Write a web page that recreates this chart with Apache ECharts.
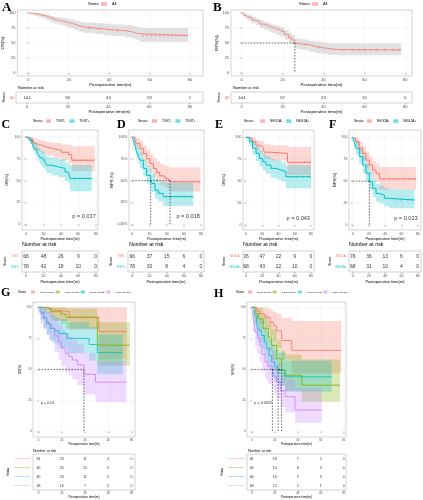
<!DOCTYPE html>
<html><head><meta charset="utf-8">
<script src="https://cdn.jsdelivr.net/npm/echarts@6/dist/echarts.min.js"></script>
<style>html,body{margin:0;padding:0;background:#fff}#chart{width:423px;height:500px}</style>
</head><body><div id="chart"></div>
<script>
// ================= DATA =================
const xTicks = [0, 20, 40, 60, 80];
const yTicks = [0, 25, 50, 75, 100];
const riskTimes = [0, 20, 40, 60, 80];

// A: OS, all patients
const A_time = [0,1,3,5,7,9,11,13,15,17,19,21,23,25,27,33,37,41,48,51,53,55,79];
const A_surv = [100,99.3,98,96.5,95,92.5,89.5,88,86.5,85,83,81.5,79,77,75,73.5,72,70.5,69,67,65.5,62.5,62.5];
const A_low  = [100,98,95.5,93.5,91,88,84.5,82.5,80.5,78.5,76,74.5,71.5,69,67,65,63,61.5,59.5,57,55.5,52,52];
const A_up   = [100,100,100,99.5,98.5,97,95,93.5,92.5,91.5,90,89,87,85.5,84,83,82,81,80,78.5,77,75,75];
const A_cens = [30,35,44,57,59,61,63,65,67,69,71,73,75,77];
const A_risk = [144,90,44,19,1];

// B: RFS, all patients
const B_time = [0,1,2,3,5,7,9,11,13,15,17,19,21,23,24.5,26,28,30,33,36,39,42,47,78];
const B_surv = [100,96,94,92,88,85,81.5,79,76,74,71,68.5,64,59,55,49.5,48,47,44.5,42.5,41,39,38.5,38.5];
const B_low  = [100,93,90,87.5,83,79.5,75.5,72.5,69,67,63.5,61,56,51,46.5,41,39.5,38,35.5,33.5,32,30,29.5,29.5];
const B_up   = [100,99,98,96.5,93,90.5,87.5,85.5,83,81,78.5,76,72,67,63.5,58,56.5,56,53.5,52,50.5,49,49,49];
const B_cens = [31,38,45,50,54,57,60,63,66,70,74,77];
const B_risk = [144,67,23,10,0];
const B_medians = [26];

// C: OS by TIGIT
const C_neg_time = [0,3,5,8,10,13,18,24,31,41,49,52.5,79];
const C_neg_surv = [100,98.5,97,94,92,90.5,88.5,86.7,84.8,82.5,80,73.4,73.4];
const C_neg_low  = [100,95,92.5,88,85.5,83.5,81,78.5,76,73,70,61,61];
const C_neg_up   = [100,100,100,99,98,97,95.5,94,93,91.5,90.5,89.5,89.5];
const C_neg_cens = [57,63,70,76];
const C_pos_time = [0,2,4.6,7,8.4,10,12.3,14,16,18,20,22,24,29.5,37,44.8,48.7,50.6,75.5];
const C_pos_surv = [100,98.5,96,92,88.6,86,83,80,77,75,73.4,70.5,67.7,65.8,64,60,58,52.5,52.5];
const C_pos_low  = [100,96,92,87,83,80,76,72.5,69,66.5,64.5,61.5,58.5,56,54,49.5,47,38,38];
const C_pos_up   = [100,100,100,97.5,95,93,90.5,88,85.5,84,82.5,80,77.5,76,74.5,71,69.5,68,68];
const C_pos_cens = [56,62,68,73];
const C_risk = [[66,48,26,9,0],[78,42,18,10,0]];

// D: RFS by TIGIT
const D_neg_time = [0,3,5,9,12.8,16.7,20.6,24.5,28.3,32,38,42,44,79];
const D_neg_surv = [100,96,92.4,86.7,81,75,69.6,64,59.3,55.5,52.5,50.6,48.7,48.7];
const D_neg_low  = [100,91,86,79,72.5,66,60,54,49,45,42,40,37.5,37.5];
const D_neg_up   = [100,100,99,95,90.5,85.5,81,76.5,72.5,69.5,67,66,65,65];
const D_neg_cens = [50,58,65,72,78];
const D_pos_time = [0,1.5,3,5,7,9,12.8,16.7,21.4,22.5,26.4,30.3,36,71];
const D_pos_surv = [100,95,90.5,83,78,73.4,64,56,49.5,46.8,39,35.4,31.6,31.6];
const D_pos_low  = [100,90,84,75.5,70,64.5,55,46.5,40,37,29.5,26,21,21];
const D_pos_up   = [100,100,97,91,86.5,82.5,74,67,62,58.5,52,49,48,48];
const D_pos_cens = [45,55,62,69];
const D_medians = [21.4, 44];
const D_risk = [[66,37,15,6,0],[78,30,8,4,0]];

// E: OS by NKG2A
const E_neg_time = [0,4,8,12.3,16.4,20.5,22.5,30.7,51,80];
const E_neg_surv = [100,98,95,91,89,87.5,83,81.7,71.5,71.5];
const E_neg_low  = [100,95,90.5,85,82.5,80.5,75,73.5,57,57];
const E_neg_up   = [100,100,99.5,97,96,95,92,91,89,89];
const E_neg_cens = [58,65,72,78];
const E_pos_time = [0,4,8,12.3,16.4,20.5,24.6,30.7,37,43,49,80];
const E_pos_surv = [100,95,87.5,81.7,76,72,68.4,64.6,62.7,61,55,55];
const E_pos_low  = [100,90,80,73,67,62.5,58.5,54,52,50,42,42];
const E_pos_up   = [100,100,95,90,85,81.5,78.5,75,73.5,72,68,68];
const E_pos_cens = [55,62,70,77];
const E_risk = [[76,47,22,9,0],[68,43,22,10,0]];

// F: RFS by NKG2A
const F_neg_time = [0,2,4,8,12.3,16.4,20.5,24.6,28.7,32.8,78];
const F_neg_surv = [100,98,95,87.5,81.7,74,68.4,62.7,59,52.5,52.5];
const F_neg_low  = [100,95,90,80.5,73.5,65,59,53,49,40.5,40.5];
const F_neg_up   = [100,100,100,95,90.5,84,78.5,73,70,66,66];
const F_neg_cens = [45,55,63,70,77];
const F_pos_time = [0,2,4,8,12.3,16.4,20.5,24.6,28.7,32.8,39,45,76];
const F_pos_surv = [100,94,87.5,78,68.4,59,49.4,41.8,36,34,30.4,28.5,28.5];
const F_pos_low  = [100,89,80.5,69.5,59,49.5,39.5,32,26.5,24.5,21,19,19];
const F_pos_up   = [100,99,95,87.5,79,70,60.5,53,47,45,42,40.5,40.5];
const F_pos_cens = [52,60,68,74];
const F_medians = [20.5];
const F_risk = [[76,36,13,6,0],[68,31,10,4,0]];

// G: OS by TIGIT/NKG2A groups
const GH_groups = ['TIGIT-NKG2A-','TIGIT-NKG2A+','TIGIT+NKG2A-','TIGIT+NKG2A+'];
const G1_time = [0,9.4,13.7,26.5,52,76];
const G1_surv = [100,98,96.5,92,80.4,80.4];
const G1_low  = [100,93,89,82,58,58];
const G1_up   = [100,100,100,100,100,100];
const G2_time = [0,3.7,10.8,19.4,23.6,50.6,78.5];
const G2_surv = [100,98.7,96.5,94.6,92,69.5,69.5];
const G2_low  = [100,95,90,86.5,83,53,53];
const G2_up   = [100,100,100,100,99,88,88];
const G3_time = [0,2,4.4,7,10,14,17.4,24.7,43.6,50.6,72.5];
const G3_surv = [100,96,91,87,83,81,79,75,70,63.5,63.5];
const G3_low  = [100,90,83,78,73,70,67.5,63,57,46,46];
const G3_up   = [100,100,99,96.5,93.5,92,90.5,88,84,78,78];
const G4_time = [0,1.5,4,7,9,11.6,14,17.4,20,23,26,29,33.4,39,49,75.6];
const G4_surv = [100,95,92,88.5,86,83,77,72,67,63,60.5,57.6,53.6,46,39.7,39.7];
const G4_low  = [100,87,83,78,74.5,71,64,58,52.5,48,45,42,37.5,30,23.5,23.5];
const G4_up   = [100,100,100,98,96.5,94,90,86,82,78.5,76.5,74,70.5,63,57,57];
const G_medians = [39];
const G_risk = [[31,23,11,4,0],[35,25,15,5,0],[45,24,11,5,0],[33,16,7,5,0]];

// H: RFS by TIGIT/NKG2A groups
const H1_time = [0,4.3,7,11.6,16,19,21.7,26,34.8,78];
const H1_surv = [100,97,94.7,92,88,85,81,73.3,65.3,65.3];
const H1_low  = [100,91,86.5,82.5,77,72.5,67.5,58,47,47];
const H1_up   = [100,100,100,99.5,98,96.5,95,91.5,89,89];
const H2_time = [0,3,5.8,10,14.5,17.4,21.7,26,29,43.5,76.8];
const H2_surv = [100,95,90.7,82.7,76,69.3,58.7,49.5,45.3,37.3,37.3];
const H2_low  = [100,88,82,72.5,65,57.5,46.5,37.5,33,24,24];
const H2_up   = [100,100,99.5,94,88.5,82.5,73,65,62,58,58];
const H3_time = [0,2,4.3,6,8.7,11,13,15,17.4,20,23,29,69.6];
const H3_surv = [100,93,85.3,81,77.3,72,66.7,61,56,52,49.3,44,44];
const H3_low  = [100,86,76.5,71.5,67,61.5,55.5,49.5,44.5,40,37,32,32];
const H3_up   = [100,100,95,91.5,89,84.5,80,74.5,70,66,63.5,57,57];
const H4_time = [0,1.5,3,5,7,9,11.6,14,18,19.5,21.7,25,29,37.7,60.9];
const H4_surv = [100,90,80,75,69.3,62,56,52.5,49.3,44,40,33,28,17.3,17.3];
const H4_low  = [100,80.5,68.5,62.5,56,48.5,42,38.5,35,30,26.5,20,15.5,7,7];
const H4_up   = [100,99,93,89,84,78,72,68,65,59,55,47,42,35,35];
const H_medians = [18, 23, 26];
const H_risk = [[31,18,7,2,0],[35,14,8,3,0],[45,16,9,3,0],[33,12,2,1,0]];

// ================= DRAWING =================
const FONT = '"Liberation Sans", Arial, Helvetica, sans-serif';
const SERIF = '"Liberation Serif", "Times New Roman", serif';
const RED = '#F8766D', GRN = '#7CAE00', TEAL = '#00BFC4', PURP = '#C77CFF';
const GH_colors = [RED, GRN, TEAL, PURP];
const PLUS = 'path://M4,0H6V4H10V6H6V10H4V6H0V4H4Z';

const option = {animation:false, backgroundColor:'#ffffff', textStyle:{fontFamily:FONT},
  title:[], legend:[], grid:[], xAxis:[], yAxis:[], series:[]};

function txt(t, left, top, size, extra) {
  option.title.push({text:t, left:left, top:top, padding:0,
    textStyle:Object.assign({fontSize:size, fontWeight:'normal', color:'#000', fontFamily:FONT}, extra || {})});
}
function letter(t, left, top, size) { txt(t, left, top, size, {fontFamily:SERIF, fontWeight:'bold'}); }

function mapAxes(box, x0, x80, y100, y0) {
  const [L,T,R,B] = box; const px = (x80-x0)/80, py = (y0-y100)/100;
  return {xmin:-(x0-L)/px, xmax:80+(R-x80)/px, ymin:-(B-y0)/py, ymax:100+(y100-T)/py};
}
function addGrid(box) {
  const [L,T,R,B] = box;
  option.grid.push({left:L, top:T, width:R-L, height:B-T, show:true, borderColor:'#a6a6a6', borderWidth:0.5, backgroundColor:'#fff'});
  return option.grid.length - 1;
}
function stepAt(t, times, vals) { let v = vals[0]; for (let i = 0; i < times.length; i++) if (times[i] <= t) v = vals[i]; return v; }

function xAxisDef(gi, m, f) {
  return {gridIndex:gi, type:'value', min:m.xmin, max:m.xmax, axisLine:{show:false},
    axisTick:{show:true, customValues:xTicks, length:1.5, lineStyle:{color:'#444', width:0.4}},
    axisLabel:{customValues:xTicks, fontSize:f.tick, color:'#4d4d4d', margin:f.margin, fontFamily:FONT},
    splitLine:{show:true, lineStyle:{color:'#ebebeb', width:0.4}},
    name:'Postoperative time(m)', nameLocation:'middle', nameGap:f.nameGap,
    nameTextStyle:{fontSize:f.title, color:'#000', fontFamily:FONT}};
}

// confidence band: one step-shaped polygon drawn through the axes
function bandSeries(gi, t, lo, hi, color, opacity) {
  return {type:'custom', xAxisIndex:gi, yAxisIndex:gi, silent:true, clip:true, z:1,
    data:t.map((x,i)=>[x, lo[i], hi[i]]), encode:{x:0, y:[1,2]},
    renderItem:(params, api) => {
      if (params.dataIndex !== 0) return null;
      const up = [], dn = [];
      for (let i = 0; i < t.length; i++) {
        const xa = t[i], xb = i < t.length - 1 ? t[i+1] : t[i];
        up.push(api.coord([xa, hi[i]]), api.coord([xb, hi[i]]));
        dn.push(api.coord([xa, lo[i]]), api.coord([xb, lo[i]]));
      }
      return {type:'polygon', shape:{points:up.concat(dn.reverse())}, style:{fill:color, opacity:opacity, stroke:null}};
    }};
}

function addKM(c) {
  const f = c.f;
  const m = mapAxes(c.box, c.x0, c.x80, c.y100, c.y0);
  const gi = addGrid(c.box);
  option.xAxis.push(xAxisDef(gi, m, f));
  option.yAxis.push({gridIndex:gi, type:'value', min:m.ymin, max:m.ymax, axisLine:{show:false},
    axisTick:{show:true, customValues:yTicks, length:1.5, lineStyle:{color:'#444', width:0.4}},
    axisLabel:{customValues:yTicks, fontSize:f.tick, color:'#4d4d4d', margin:f.margin, fontFamily:FONT,
      formatter: c.yFmt || (v => String(v))},
    splitLine:{show:true, lineStyle:{color:'#ebebeb', width:0.4}},
    name:c.yName, nameLocation:'middle', nameRotate:90, nameGap:c.yGap,
    nameTextStyle:{fontSize:f.title, color:'#000', fontFamily:FONT}});
  c.curves.forEach(cv => {
    option.series.push(bandSeries(gi, cv.t, cv.lo, cv.hi, cv.band || cv.color, cv.band ? 0.35 : 0.28));
  });
  c.curves.forEach(cv => {
    option.series.push({name:cv.name, type:'line', xAxisIndex:gi, yAxisIndex:gi, step:'end', symbol:'none', silent:true,
      data:cv.t.map((x,i)=>[x, cv.s[i]]), lineStyle:{color:cv.color, width:f.lw}, itemStyle:{color:cv.color}, z:3});
    if (cv.cens) {
      option.series.push({type:'scatter', xAxisIndex:gi, yAxisIndex:gi, symbol:PLUS, symbolSize:f.cens, silent:true,
        data:cv.cens.map(t=>[t, stepAt(t, cv.t, cv.s)]), itemStyle:{color:cv.color}, z:4});
    }
  });
  if (c.medians && c.medians.length) {
    const dash = {color:'#000', width:0.6, type:[1.5,1.5]};
    option.series.push({type:'line', xAxisIndex:gi, yAxisIndex:gi, symbol:'none', silent:true,
      data:[[0,50],[Math.max(...c.medians),50]], lineStyle:dash, z:5});
    c.medians.forEach(md => option.series.push({type:'line', xAxisIndex:gi, yAxisIndex:gi, symbol:'none', silent:true,
      data:[[md,50],[md,0]], lineStyle:dash, z:5}));
  }
  if (c.pText) {
    option.series.push({type:'scatter', xAxisIndex:gi, yAxisIndex:gi, symbolSize:1, silent:true,
      itemStyle:{color:'rgba(0,0,0,0)'}, data:[[c.pX, c.pY]],
      label:{show:true, position:'inside', formatter:c.pText, fontSize:f.p, color:'#000', fontFamily:FONT}, z:6});
  }
}

function addRisk(c) {
  const f = c.f;
  const m = mapAxes([c.box[0], 0, c.box[2], 100], c.x0, c.x80, 0, 100);
  const gi = addGrid(c.box);
  const xa = xAxisDef(gi, m, f);
  xa.splitLine = {show:false};
  option.xAxis.push(xa);
  option.yAxis.push({gridIndex:gi, type:'category', inverse:true, data:c.rows, axisLine:{show:false},
    axisTick:{show:true, length:1.5, alignWithLabel:true, lineStyle:{color:'#444', width:0.4}},
    axisLabel:{fontSize:f.row, margin:f.margin, fontFamily:FONT, color:(v,i)=>c.colors[i]},
    splitLine:{show:false},
    name:'Strata', nameLocation:'middle', nameRotate:90, nameGap:c.yGap,
    nameTextStyle:{fontSize:f.strata, color:'#000', fontFamily:FONT}});
  const data = [];
  c.counts.forEach((row, r) => row.forEach((n, j) => data.push([riskTimes[j], c.rows[r], n])));
  option.series.push({type:'scatter', xAxisIndex:gi, yAxisIndex:gi, symbolSize:1, silent:true,
    itemStyle:{color:'rgba(0,0,0,0)'}, data:data,
    label:{show:true, position:'inside', formatter:p=>String(p.value[2]), fontSize:f.num, color:'#000', fontFamily:FONT}});
}

function addLegend(names, colors, left, top, f) {
  option.legend.push({left:left, top:top, padding:0, orient:'horizontal', selectedMode:false,
    itemWidth:f.iw, itemHeight:f.ih, itemGap:f.gap,
    textStyle:{fontSize:f.font, color:'#000', fontFamily:FONT},
    data:names.map((n,i)=>({name:n, icon:'rect', itemStyle:{color:colors[i], opacity:0.55, borderWidth:0}}))});
}

// ---- font/size settings ----
const fAB = {tick:4, title:4.3, margin:1.8, nameGap:3.8, lw:0.8, cens:2.4};
const rAB = {tick:4, title:4.3, margin:2, nameGap:4.5, num:4.3, row:3.6, strata:3.8};
const fCF = {tick:3.5, title:4, margin:1.6, nameGap:4.5, lw:1, cens:2.2, p:5.6};
const rCF = {tick:3.5, title:4, margin:2.5, nameGap:6, num:5, row:2.8, strata:3.4};
const fGH = {tick:2.8, title:3.2, margin:1.4, nameGap:4.8, lw:0.8, cens:1.8, p:3.8};
const rGH = {tick:2.8, title:3.2, margin:1.5, nameGap:5, num:3.6, row:2.5, strata:3};

// ---- Panel A ----
letter('A', 2, 1, 13);
txt('Strata', 88, 2, 4);
addLegend(['All'], [RED], 101, 2, {iw:6, ih:3.5, gap:4, font:4});
addKM({box:[16,10,203,76], x0:27, x80:190, y100:13, y0:73, yName:'OS(%)', yGap:8, f:fAB,
  curves:[{name:'All', color:RED, band:'#a8a8a8', t:A_time, s:A_surv, lo:A_low, hi:A_up, cens:A_cens}]});
txt('Number at risk', 18, 85.6, 4);
addRisk({box:[16,92,203,103], x0:27, x80:190, rows:['All'], colors:[RED], counts:[A_risk], yGap:9, f:rAB});

// ---- Panel B ----
letter('B', 213, 1, 13);
txt('Strata', 299, 2, 4);
addLegend(['All'], [RED], 312, 2, {iw:6, ih:3.5, gap:4, font:4});
addKM({box:[231,10,412,76], x0:241.7, x80:405.3, y100:13, y0:73, yName:'RFS(%)', yGap:8, f:fAB, medians:B_medians,
  curves:[{name:'All', color:RED, band:'#a8a8a8', t:B_time, s:B_surv, lo:B_low, hi:B_up, cens:B_cens}]});
txt('Number at risk', 233, 85.6, 4);
addRisk({box:[231,92,412,103], x0:241.7, x80:405.3, rows:['All'], colors:[RED], counts:[B_risk], yGap:9, f:rAB});

// ---- Panels C-F ----
const lgCF = {iw:5, ih:3.5, gap:4, font:3.3};
letter('C', 1.5, 119, 12);
txt('Strata', 33, 119.3, 3.5);
addLegend(['TIGIT-','TIGIT+'], [RED, TEAL], 46, 119.3, lgCF);
addKM({box:[22,130,98,230], x0:26, x80:95.7, y100:137, y0:224.3, yName:'OS(%)', yGap:13, f:fCF,
  pText:'p = 0.017', pX:66.7, pY:8.7,
  curves:[{name:'TIGIT-', color:RED, t:C_neg_time, s:C_neg_surv, lo:C_neg_low, hi:C_neg_up, cens:C_neg_cens},
          {name:'TIGIT+', color:TEAL, t:C_pos_time, s:C_pos_surv, lo:C_pos_low, hi:C_pos_up, cens:C_pos_cens}]});
txt('Number at risk', 22, 242.5, 5.3);
addRisk({box:[22,251,98,272], x0:26, x80:95.7, rows:['TIGIT-','TIGIT+'], colors:[RED, TEAL], counts:C_risk, yGap:14, f:rCF});

letter('D', 117, 119, 12);
txt('Strata', 138, 119.3, 3.5);
addLegend(['TIGIT-','TIGIT+'], [RED, TEAL], 152, 119.3, lgCF);
addKM({box:[129,130,204,230], x0:132.3, x80:201, y100:137, y0:224.3, yName:'RFS (%)', yGap:10, f:fCF,
  yFmt: v => (v === 0 ? '0.00%' : v + '%'), medians:D_medians,
  pText:'p = 0.018', pX:65, pY:8.7,
  curves:[{name:'TIGIT-', color:RED, t:D_neg_time, s:D_neg_surv, lo:D_neg_low, hi:D_neg_up, cens:D_neg_cens},
          {name:'TIGIT+', color:TEAL, t:D_pos_time, s:D_pos_surv, lo:D_pos_low, hi:D_pos_up, cens:D_pos_cens}]});
txt('Number at risk', 129, 242.5, 5.3);
addRisk({box:[128,251,204,272], x0:132.3, x80:201, rows:['TIGIT-','TIGIT+'], colors:[RED, TEAL], counts:D_risk, yGap:14, f:rCF});

letter('E', 215, 119, 12);
txt('Strata', 244, 119.3, 3.5);
addLegend(['NKG2A-','NKG2A+'], [RED, TEAL], 260, 119.3, lgCF);
addKM({box:[243,130,314,230], x0:246, x80:311, y100:137.3, y0:225, yName:'OS(%)', yGap:17, f:fCF,
  pText:'p = 0.043', pX:64.3, pY:7.6,
  curves:[{name:'NKG2A-', color:RED, t:E_neg_time, s:E_neg_surv, lo:E_neg_low, hi:E_neg_up, cens:E_neg_cens},
          {name:'NKG2A+', color:TEAL, t:E_pos_time, s:E_pos_surv, lo:E_pos_low, hi:E_pos_up, cens:E_pos_cens}]});
txt('Number at risk', 243, 242.5, 5.3);
addRisk({box:[243,251,314,272], x0:246, x80:311, rows:['NKG2A-','NKG2A+'], colors:[RED, TEAL], counts:E_risk, yGap:16, f:rCF});

letter('F', 329, 119, 12);
txt('Strata', 354, 119.3, 3.5);
addLegend(['NKG2A-','NKG2A+'], [RED, TEAL], 367, 119.3, lgCF);
addKM({box:[349,130,421,230], x0:352.7, x80:417.7, y100:137.3, y0:225, yName:'RFS(%)', yGap:12, f:fCF,
  medians:F_medians, pText:'p = 0.023', pX:65.5, pY:7.6,
  curves:[{name:'NKG2A-', color:RED, t:F_neg_time, s:F_neg_surv, lo:F_neg_low, hi:F_neg_up, cens:F_neg_cens},
          {name:'NKG2A+', color:TEAL, t:F_pos_time, s:F_pos_surv, lo:F_pos_low, hi:F_pos_up, cens:F_pos_cens}]});
txt('Number at risk', 349, 242.5, 5.3);
addRisk({box:[349,251,421,272], x0:352.7, x80:417.7, rows:['NKG2A-','NKG2A+'], colors:[RED, TEAL], counts:F_risk, yGap:16, f:rCF});

// ---- Panels G-H ----
const lgGH = {iw:4, ih:3, gap:0, font:2.4};
letter('G', 1, 287, 12);
txt('Strata', 18, 290.6, 3);
addLegend(GH_groups, GH_colors, 31, 290.5, lgGH);
addKM({box:[33,302,135,437], x0:38.5, x80:131.5, y100:307.3, y0:431.5, yName:'OS(%)', yGap:11, f:fGH,
  medians:G_medians, pText:'p = 0.01', pX:7.8, pY:23,
  curves:[{name:GH_groups[0], color:RED,  t:G1_time, s:G1_surv, lo:G1_low, hi:G1_up},
          {name:GH_groups[1], color:GRN,  t:G2_time, s:G2_surv, lo:G2_low, hi:G2_up},
          {name:GH_groups[2], color:TEAL, t:G3_time, s:G3_surv, lo:G3_low, hi:G3_up},
          {name:GH_groups[3], color:PURP, t:G4_time, s:G4_surv, lo:G4_low, hi:G4_up}]});
txt('Number at risk', 33, 448.6, 3.6);
addRisk({box:[33,454,135,490], x0:38.5, x80:131.5, rows:GH_groups, colors:GH_colors, counts:G_risk, yGap:20, f:rGH});

letter('H', 214, 288, 12);
txt('Strata', 236, 290.6, 3);
addLegend(GH_groups, GH_colors, 248, 290.5, lgGH);
addKM({box:[247,302,346,437], x0:251.7, x80:343.7, y100:307.3, y0:431.5, yName:'RFS(%)', yGap:12, f:fGH,
  medians:H_medians, pText:'p = 0.0055', pX:10.1, pY:22.7,
  curves:[{name:GH_groups[0], color:RED,  t:H1_time, s:H1_surv, lo:H1_low, hi:H1_up},
          {name:GH_groups[1], color:GRN,  t:H2_time, s:H2_surv, lo:H2_low, hi:H2_up},
          {name:GH_groups[2], color:TEAL, t:H3_time, s:H3_surv, lo:H3_low, hi:H3_up},
          {name:GH_groups[3], color:PURP, t:H4_time, s:H4_surv, lo:H4_low, hi:H4_up}]});
txt('Number at risk', 248, 448.6, 3.6);
addRisk({box:[247,454,346,490], x0:251.7, x80:343.7, rows:GH_groups, colors:GH_colors, counts:H_risk, yGap:20, f:rGH});

const chart = echarts.init(document.getElementById('chart'), null, {renderer:'canvas', width:423, height:500});
chart.setOption(option);
</script></body></html>
